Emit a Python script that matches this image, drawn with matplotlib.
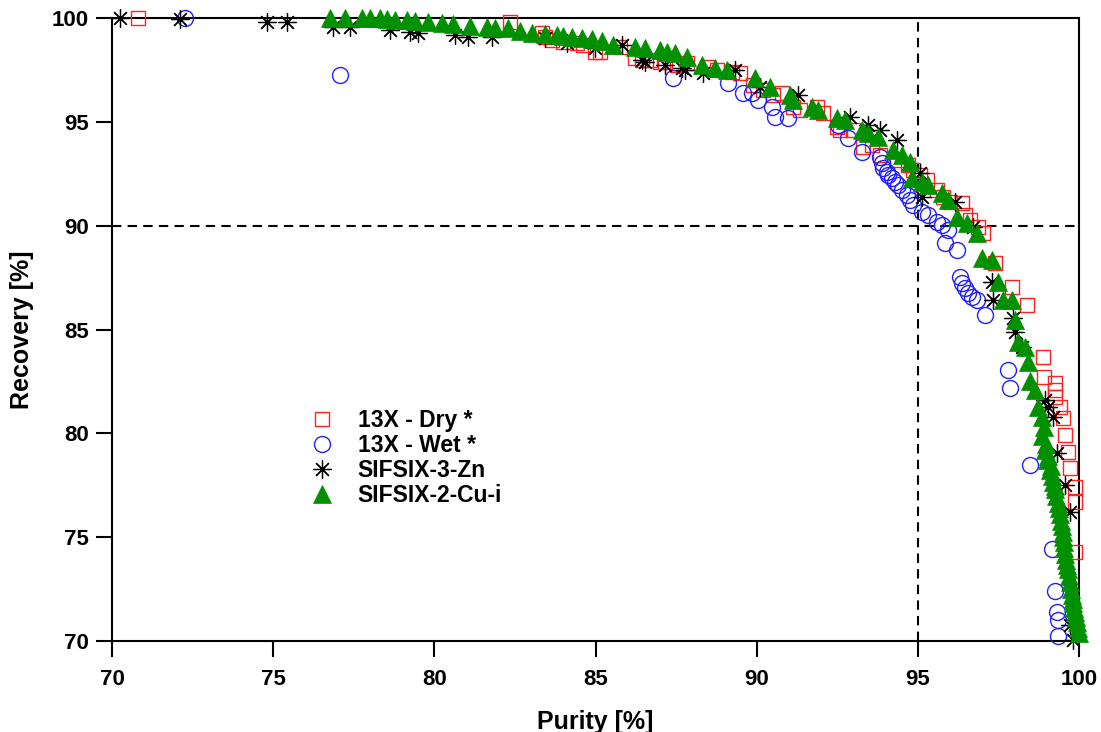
import matplotlib
matplotlib.use("Agg")
import matplotlib.pyplot as plt

plt.rcParams['font.family'] = ['Liberation Sans', 'DejaVu Sans']
plt.rcParams['font.weight'] = 'bold'

# ---- data ----
dry_x = [70.81, 82.35, 83.34, 83.43, 83.65, 83.99, 84.43, 84.61, 84.99, 85.14, 85.76, 86.23, 86.44, 86.69,
         87.0, 87.16, 87.53, 87.84, 88.46, 88.77, 89.24, 89.48, 89.89, 90.2, 90.51, 90.79, 91.13, 91.35,
         91.87, 92.06, 92.5, 92.59, 92.99, 93.3, 93.58, 93.83, 94.36, 94.7, 94.85, 95.07, 95.29, 95.6,
         95.78, 96.0, 96.37, 96.47, 96.62, 96.87, 97.02, 97.4, 97.92, 98.39, 98.89, 98.92, 99.26, 99.26,
         99.26, 99.41, 99.51, 99.57, 99.66, 99.72, 99.88, 99.88, 99.88]
dry_y = [100.0, 99.8, 99.28, 99.09, 98.94, 98.84, 98.8, 98.7, 98.36, 98.36, 98.6, 98.07, 97.98, 97.98,
         97.88, 97.88, 97.74, 97.83, 97.64, 97.5, 97.4, 97.35, 96.77, 96.53, 96.29, 96.39, 95.71, 95.57,
         95.71, 95.43, 94.75, 94.61, 94.61, 93.79, 93.89, 93.4, 93.16, 92.92, 92.68, 92.44, 92.2, 91.72,
         91.38, 91.14, 91.09, 90.51, 90.27, 89.94, 89.65, 88.2, 87.05, 86.18, 83.68, 82.71, 82.43, 82.09,
         81.75, 81.27, 80.74, 79.92, 79.1, 78.33, 77.42, 76.7, 74.3]

wet_x = [72.26, 77.07, 87.41, 89.11, 89.58, 89.86, 90.04, 90.48, 90.57, 90.97, 92.53, 92.84, 93.27, 93.83,
         93.89, 93.92, 94.05, 94.08, 94.2, 94.29, 94.39, 94.51, 94.67, 94.76, 94.85, 95.13, 95.32, 95.6,
         95.75, 95.94, 95.85, 96.22, 96.31, 96.37, 96.47, 96.56, 96.68, 96.84, 97.09, 97.8, 97.86, 98.48,
         99.17, 99.26, 99.32, 99.35, 99.35]
wet_y = [100.0, 97.26, 97.11, 96.87, 96.39, 96.39, 96.05, 95.71, 95.23, 95.19, 94.85, 94.22, 93.55, 93.31,
         93.02, 92.78, 92.59, 92.44, 92.3, 92.1, 91.96, 91.72, 91.48, 91.24, 91.0, 90.66, 90.52, 90.18,
         90.03, 89.79, 89.17, 88.83, 87.53, 87.24, 87.0, 86.76, 86.57, 86.42, 85.7, 83.05, 82.19, 78.48,
         74.43, 72.41, 71.4, 71.02, 70.25]

zn_x = [70.25, 72.11, 74.81, 75.43, 76.86, 77.38, 78.63, 79.25, 79.49, 80.64, 81.05, 81.79, 83.43, 84.12,
        84.99, 85.82, 86.44, 86.54, 87.16, 87.69, 87.78, 88.34, 89.33, 90.11, 91.28, 92.9, 93.46, 93.83,
        94.36, 95.07, 95.13, 96.16, 96.71, 97.3, 97.33, 97.96, 98.02, 98.23, 98.95, 99.04, 99.2, 99.32,
        99.57, 99.72, 99.72, 99.82]
zn_y = [100.0, 99.95, 99.81, 99.81, 99.57, 99.57, 99.42, 99.33, 99.28, 99.18, 99.09, 99.09, 99.04, 98.8,
        98.56, 98.7, 97.98, 97.88, 97.74, 97.59, 97.5, 97.35, 97.5, 96.68, 96.29, 95.23, 94.85, 94.61,
        94.13, 92.54, 91.38, 91.14, 89.94, 87.29, 86.42, 85.56, 84.88, 84.16, 81.61, 81.27, 80.79, 79.06,
        77.52, 76.22, 70.77, 70.05]

cu_x = [76.76, 77.23, 77.76, 78.0, 78.32, 78.53, 78.78, 79.15, 79.4, 79.8, 80.24, 80.58, 81.1, 81.63,
        81.88, 82.29, 82.66, 83.03, 83.43, 83.8, 83.99, 84.27, 84.58, 84.89, 85.2, 85.54, 86.23, 86.54,
        87.0, 87.22, 87.47, 87.84, 88.3, 88.71, 89.08, 89.95, 90.42, 91.04, 91.13, 91.72, 91.9, 92.5,
        92.74, 93.27, 93.46, 93.77, 94.23, 94.51, 94.76, 94.82, 95.13, 95.32, 95.75, 95.94, 96.22, 96.53,
        96.84, 96.99, 97.3, 97.49, 97.64, 97.92, 98.02, 98.11, 98.33, 98.42, 98.48, 98.64, 98.73,
        98.86, 98.9, 98.86, 98.98, 98.95, 99.05, 99.01, 99.12, 99.1, 99.15, 99.2, 99.24, 99.26, 99.3,
        99.35, 99.38, 99.41, 99.45, 99.47, 99.5, 99.51, 99.53, 99.54, 99.58, 99.6, 99.63, 99.66, 99.69,
        99.72, 99.75, 99.79, 99.8, 99.82, 99.86, 99.88, 99.9, 99.94, 99.96, 100.0]
cu_y = [100.0, 100.0, 100.0, 100.0, 100.0, 99.95, 99.9, 99.9, 99.85, 99.8, 99.75, 99.7, 99.6, 99.55,
        99.5, 99.5, 99.35, 99.3, 99.25, 99.2, 99.15, 99.1, 99.05, 99.0, 98.9, 98.7, 98.6, 98.55,
        98.45, 98.35, 98.3, 98.1, 97.75, 97.6, 97.5, 97.1, 96.7, 96.3, 96.05, 95.7, 95.55, 95.2,
        95.1, 94.6, 94.45, 94.25, 93.65, 93.4, 93.05, 92.3, 92.1, 91.95, 91.55, 91.25, 90.4, 90.15,
        89.65, 88.45, 88.35, 87.3, 86.4, 86.4, 85.45, 84.4, 84.15, 83.45, 82.5, 82.1, 81.25,
        80.8, 80.3, 79.85, 79.5, 79.2, 78.9, 78.7, 78.45, 78.25, 77.95, 77.65, 77.45, 77.3, 77.0,
        76.65, 76.4, 76.1, 75.8, 75.55, 75.25, 75.0, 74.75, 74.5, 74.2, 73.9, 73.65, 73.45, 73.15,
        72.85, 72.5, 72.2, 72.0, 71.85, 71.6, 71.4, 71.15, 70.9, 70.65, 70.4]

labels = ['13X - Dry *', '13X - Wet *', 'SIFSIX-3-Zn', 'SIFSIX-2-Cu-i']
x_ticks = [70, 75, 80, 85, 90, 95, 100]
y_ticks = [70, 75, 80, 85, 90, 95, 100]
purity_target = 95
recovery_target = 90

# ---- figure ----
fig = plt.figure(figsize=(11.01, 7.32), dpi=100)
ax = fig.add_axes([112/1101, 1 - 641/732, (1079-112)/1101, (641-18)/732])

ax.axvline(purity_target, color='black', lw=1.5, ls=(0, (4.5, 3)), zorder=1)
ax.axhline(recovery_target, color='black', lw=1.5, ls=(0, (4.5, 3)), zorder=1)

ax.plot(dry_x, dry_y, ls='none', marker='s', ms=10.5, mfc='none', mec='#ff2020', mew=1.0,
        label=labels[0], clip_on=False, zorder=3)
ax.plot(wet_x, wet_y, ls='none', marker='o', ms=11.5, mfc='none', mec='#2020ff', mew=1.0,
        label=labels[1], clip_on=False, zorder=4)
ax.plot(zn_x, zn_y, ls='none', marker=(8, 2, 0), ms=13, mec='black', mew=0.9,
        label=labels[2], clip_on=False, zorder=5)
ax.plot(cu_x, cu_y, ls='none', marker='^', ms=13.5, mfc='#009000', mec='#009000', mew=0.5,
        label=labels[3], clip_on=False, zorder=6)

ax.set_xlim(70, 100)
ax.set_ylim(70, 100)
ax.set_xticks(x_ticks)
ax.set_yticks(y_ticks)
ax.tick_params(axis='both', direction='out', length=11.5, width=1.5, labelsize=16, pad=5)
ax.tick_params(axis='x', pad=9)
for lbl in ax.get_xticklabels() + ax.get_yticklabels():
    lbl.set_fontweight('bold')
for sp in ax.spines.values():
    sp.set_linewidth(1.5)

ax.set_xlabel('Purity [%]', fontsize=18, fontweight='bold', labelpad=14)
ax.set_ylabel('Recovery [%]', fontsize=18, fontweight='bold', labelpad=13)

leg = ax.legend(loc='center left', bbox_to_anchor=(0.203, 0.294), frameon=False,
                prop={'size': 16.5, 'weight': 'bold'}, handletextpad=0.95, labelspacing=0.08,
                handlelength=1.2, borderaxespad=0, borderpad=0)

fig.savefig('out.png', dpi=100)
